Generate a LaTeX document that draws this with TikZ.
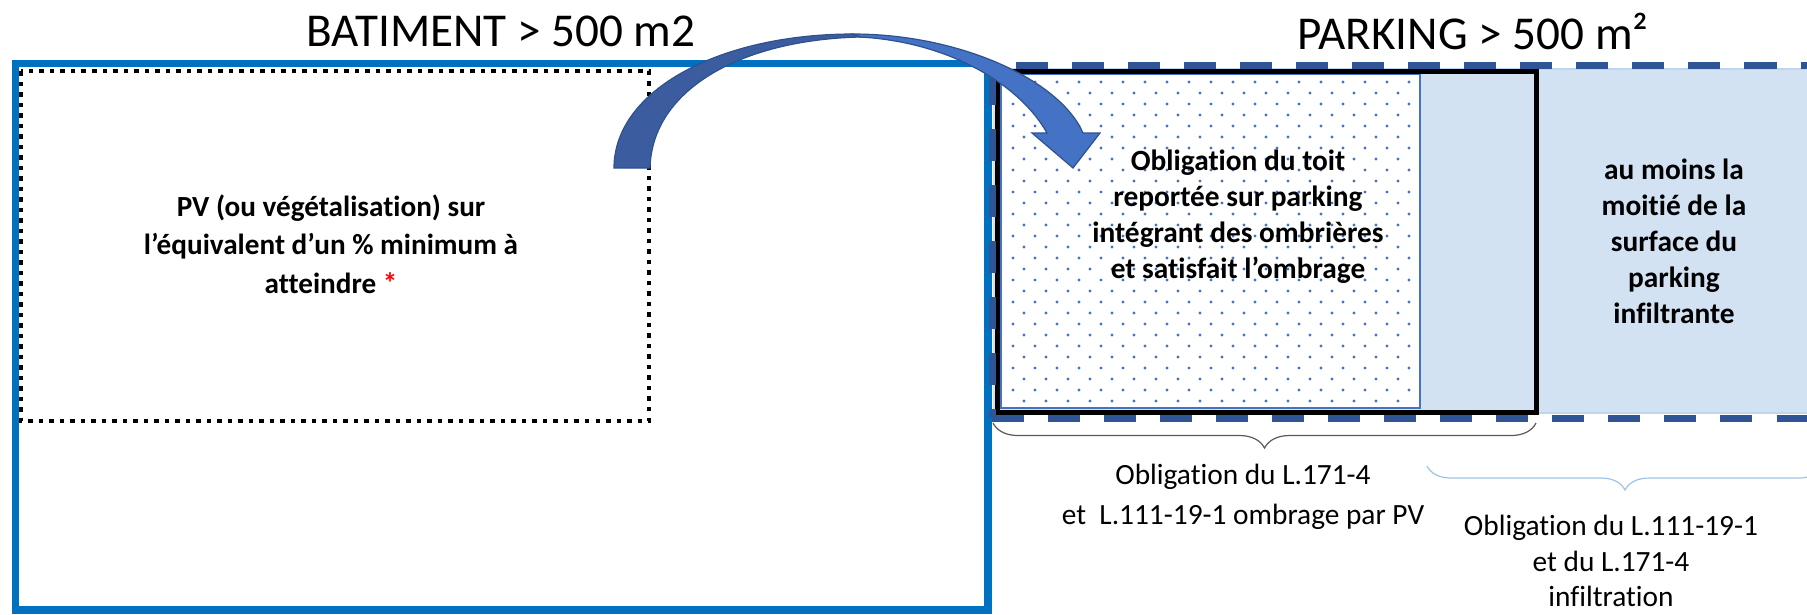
\documentclass[tikz,border=0pt]{standalone}
\usepackage{fontspec}
\setmainfont{Carlito}[Ligatures=NoCommon]
\usepackage{xcolor}
\usetikzlibrary{decorations.pathreplacing,positioning}

\definecolor{batblue}{HTML}{0070C0}
\definecolor{parkblue}{HTML}{2F5597}
\definecolor{arrowlight}{HTML}{4472C4}
\definecolor{arrowdark}{HTML}{3B5C9E}
\definecolor{arrowedge}{HTML}{2F528F}
\definecolor{infilblue}{HTML}{D3E2F3}
\definecolor{infiledge}{HTML}{BDD7EE}
\definecolor{bracegray}{HTML}{595959}
\definecolor{bracelight}{HTML}{9DC3E6}

\begin{document}
\begin{tikzpicture}[
  x=0.01cm, y=-0.01cm,
  title/.style={font=\fontsize{13.4pt}{16pt}\selectfont, inner sep=0pt},
  boxtext/.style={align=center, inner sep=0pt, font=\fontsize{8.35pt}{10.25pt}\selectfont\bfseries},
  lawtext/.style={align=center, inner sep=0pt, font=\fontsize{8.35pt}{10.1pt}\selectfont},
  lawbrace/.style={decorate, decoration={brace, mirror, amplitude=0.25cm}, line width=0.012cm},
  parkdash/.style={parkblue, line width=0.07cm, dash pattern=on 0.32cm off 0.24cm},
  arrowback/.style={fill=arrowdark, draw=arrowedge, line width=0.012cm},
  arrowfront/.style={fill=arrowlight, draw=arrowedge, line width=0.012cm}
]
\useasboundingbox (0,0) rectangle (1807,614);

% batiment
\draw[batblue, line width=0.075cm] (15.5,63.5) rectangle (988,610);
\draw[line width=0.045cm, dash pattern=on 0.045cm off 0.06cm] (21,71) rectangle (649,421);

% parking
\fill[infilblue] (993,69) rectangle (1830,413);
\draw[infiledge, line width=0.015cm] (993,69) -- (1830,69) (993,413) -- (1830,413);
\draw[arrowlight, line width=0.015cm, fill=white] (1001,74) rectangle (1420,408);
\foreach \y in {82,104,...,405}
  \foreach \x in {1013,1035,...,1412}
    \fill[arrowlight] (\x,\y) circle[radius=0.016cm];
\foreach \y in {93,115,...,405}
  \foreach \x in {1024,1046,...,1412}
    \fill[arrowlight] (\x,\y) circle[radius=0.016cm];
\draw[line width=0.05cm] (997,71) rectangle (1536,412);
\draw[parkdash, dash phase=0.32cm] (992,65) -- (1830,65);
\draw[parkdash, dash phase=0.48cm] (992,65) -- (992,418);
\draw[parkdash] (992,418) -- (1830,418);

% fleche toit -> parking
\path[arrowback] (614,168) .. controls (614,90) and (720,34) .. (853,34)
  -- (860,37) .. controls (740,40) and (652,90) .. (650,168) -- cycle;
\path[arrowfront] (853,34) .. controls (960,34) and (1060,80) .. (1083,133)
  -- (1100,133) -- (1073,168) -- (1032,133) -- (1047,133)
  .. controls (1020,85) and (950,42) .. (860,37) -- cycle;

\node[title] (battitle) at (501,31) {BATIMENT > 500 m2};
\node[title] (parktitle) at (1473,31) {PARKING > 500 m²};

\node[boxtext, font=\fontsize{8.3pt}{11pt}\selectfont\bfseries] (pvtext) at (331,244)
  {PV (ou végétalisation) sur\\l’équivalent d’un \% minimum à\\atteindre {\color{red}*}};
\node[boxtext] (toittext) at (1238,217)
  {Obligation du toit\\reportée sur parking\\intégrant des ombrières\\et satisfait l’ombrage};
\node[boxtext] (infiltext) at (1674,241)
  {au moins la\\moitié de la\\surface du\\parking\\infiltrante};

% accolades
\coordinate (toitL) at (993,423);
\coordinate (toitR) at (1536,423);
\coordinate (infL) at (1427,466);
\coordinate (infR) at (1823,466);
\draw[lawbrace, bracegray] (toitL) -- (toitR);
\draw[lawbrace, bracelight, decoration={amplitude=0.24cm}] (infL) -- (infR);

\node[lawtext, font=\fontsize{8.35pt}{11.4pt}\selectfont] (ombrlaw) at (1243,497)
  {Obligation du L.171-4\\et\ \ L.111-19-1 ombrage par PV};
\node[lawtext] (infillaw) at (1611,561)
  {Obligation du L.111-19-1\\et du L.171-4\\infiltration};
\end{tikzpicture}
\end{document}
